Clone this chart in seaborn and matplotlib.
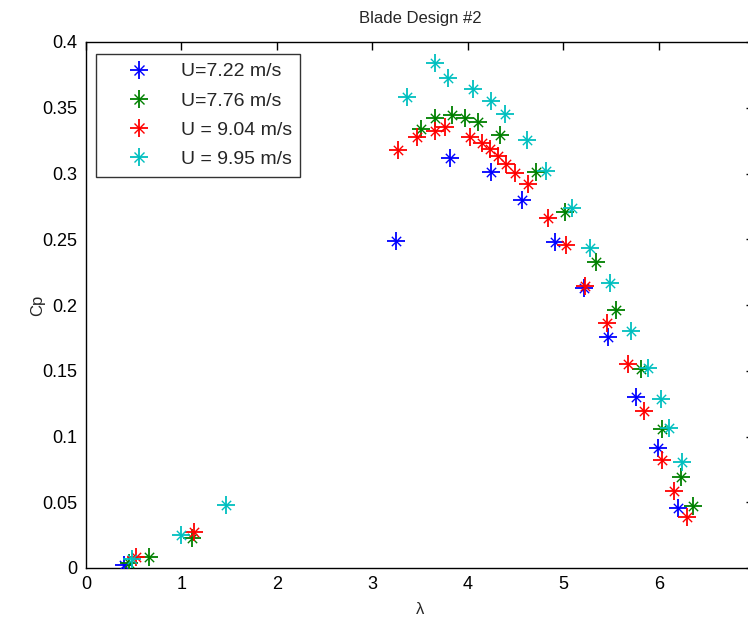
import matplotlib
matplotlib.use("Agg")
import matplotlib.pyplot as plt
import seaborn as sns
import pandas as pd
from matplotlib.lines import Line2D

series_names = ["U=7.22 m/s", "U=7.76 m/s", "U = 9.04 m/s", "U = 9.95 m/s"]
series_colors = ["#0000ff", "#008000", "#ff0000", "#00bfbf"]

lam_722 = [0.40, 3.25, 3.81, 4.24, 4.57, 4.91, 5.21, 5.47, 5.76, 5.99, 6.20]
cp_722 = [0.002, 0.249, 0.312, 0.301, 0.280, 0.248, 0.213, 0.176, 0.130, 0.091, 0.046]

lam_776 = [0.45, 0.66, 1.11, 3.51, 3.65, 3.83, 3.97, 4.10, 4.33, 4.71, 5.02, 5.34, 5.55, 5.81, 6.03, 6.23, 6.36]
cp_776 = [0.004, 0.0086, 0.0226, 0.334, 0.342, 0.3445, 0.342, 0.339, 0.329, 0.301, 0.2705, 0.233, 0.196, 0.151, 0.106, 0.0695, 0.047]

lam_904 = [0.52, 1.13, 3.27, 3.47, 3.65, 3.76, 4.02, 4.15, 4.23, 4.31, 4.40, 4.49, 4.63, 4.84, 5.03, 5.23, 5.46, 5.68, 5.84, 6.03, 6.16, 6.29]
cp_904 = [0.0085, 0.027, 0.3176, 0.328, 0.332, 0.335, 0.328, 0.3235, 0.3186, 0.313, 0.307, 0.3006, 0.2918, 0.266, 0.2456, 0.2144, 0.186, 0.155, 0.1196, 0.0821, 0.0583, 0.0385]

lam_995 = [0.48, 1.00, 1.47, 3.36, 3.65, 3.79, 4.05, 4.24, 4.39, 4.62, 4.82, 5.09, 5.28, 5.49, 5.71, 5.89, 6.02, 6.10, 6.24]
cp_995 = [0.0066, 0.025, 0.0479, 0.3585, 0.3843, 0.3724, 0.3643, 0.355, 0.345, 0.3257, 0.302, 0.2735, 0.2436, 0.2165, 0.1805, 0.1523, 0.1288, 0.1067, 0.0808]

x_ticks = [0, 1, 2, 3, 4, 5, 6, 7]
x_ticklabels = ["0", "1", "2", "3", "4", "5", "6", ""]
y_ticks = [0, 0.05, 0.1, 0.15, 0.2, 0.25, 0.3, 0.35, 0.4]
y_ticklabels = ["0", "0.05", "0.1", "0.15", "0.2", "0.25", "0.3", "0.35", "0.4"]

frames = []
for name, lam, cp in zip(series_names,
                         [lam_722, lam_776, lam_904, lam_995],
                         [cp_722, cp_776, cp_904, cp_995]):
    frames.append(pd.DataFrame({"lambda": lam, "Cp": cp, "series": name}))
df = pd.concat(frames, ignore_index=True)

sns.set_style("white")
plt.rcParams["font.family"] = ["Liberation Sans", "DejaVu Sans"]

fig = plt.figure(figsize=(7.48, 6.24), dpi=100)
ax = fig.add_axes([86 / 748, (624 - 568) / 624, (754.5 - 86) / 748, (568 - 42) / 624])

# MATLAB-like '*' marker: long plus arms with short diagonals, drawn series by series
for name, color in zip(series_names, series_colors):
    sub = df[df["series"] == name]
    sns.scatterplot(data=sub, x="lambda", y="Cp", color=color, marker="+",
                    s=170, linewidth=1.3, ax=ax, legend=False, zorder=3)
    sns.scatterplot(data=sub, x="lambda", y="Cp", color=color, marker="x",
                    s=45, linewidth=1.0, ax=ax, legend=False, zorder=3)

ax.set_xlim(0, 7)
ax.set_ylim(0, 0.4)
ax.set_xticks(x_ticks)
ax.set_xticklabels(x_ticklabels)
ax.set_yticks(y_ticks)
ax.set_yticklabels(y_ticklabels)
ax.tick_params(direction="in", length=6, width=1, labelsize=13, top=True, right=True,
               color="black", labelcolor="black", pad=6)
for sp in ax.spines.values():
    sp.set_visible(True)
    sp.set_color("black")
    sp.set_linewidth(1)

ax.set_xlabel("λ", fontsize=12, labelpad=6)
ax.set_ylabel("Cp", fontsize=12, labelpad=-2)
ax.set_title("Blade Design #2", fontsize=12, pad=14)

handles = []
for c in series_colors:
    handles.append((Line2D([], [], linestyle="none", marker="+", markersize=13,
                           markeredgewidth=1.3, color=c),
                    Line2D([], [], linestyle="none", marker="x", markersize=6.5,
                           markeredgewidth=1.0, color=c)))
leg = ax.legend(handles, series_names, loc="upper left", bbox_to_anchor=(0.015, 0.977),
                borderaxespad=0, fontsize=14, frameon=True, fancybox=False,
                edgecolor="black", borderpad=0.45, labelspacing=0.6,
                handletextpad=0.4, handlelength=3.5)
leg.get_frame().set_linewidth(1)

fig.savefig("out.png", dpi=100)
